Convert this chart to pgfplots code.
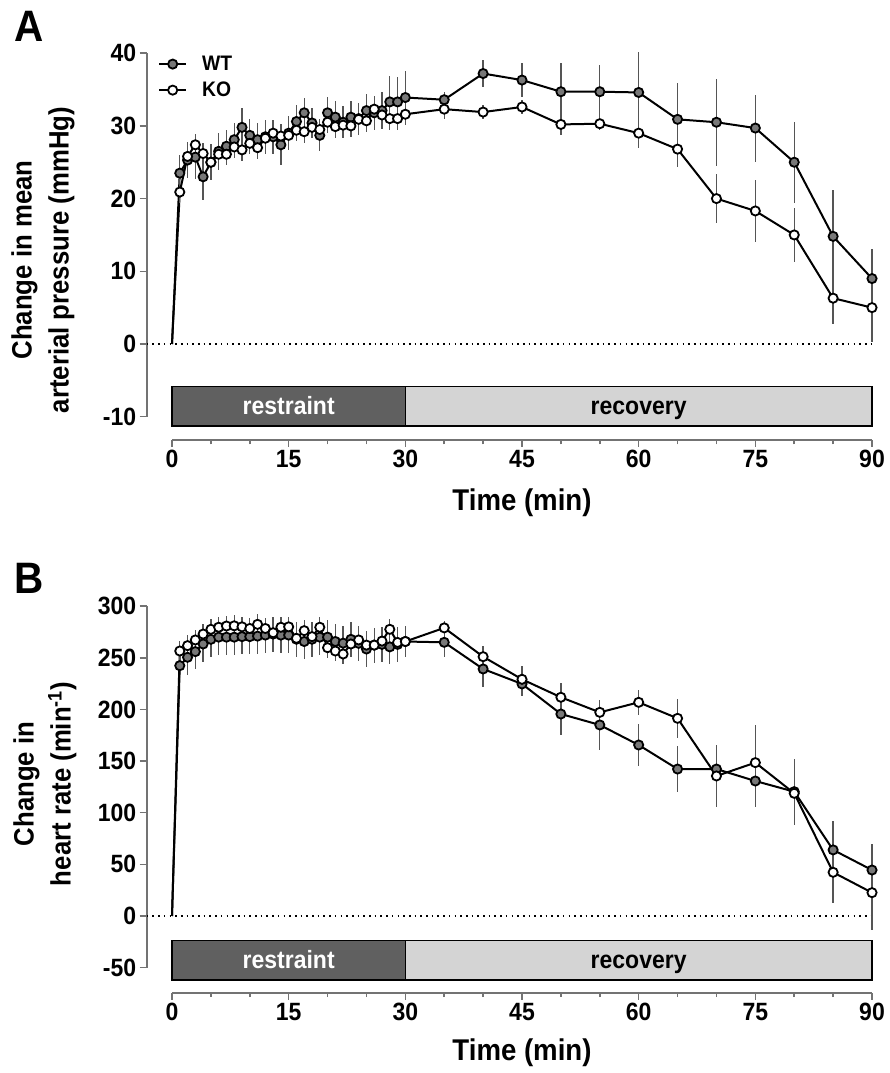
\documentclass[border=0pt]{standalone}
\usepackage{fontspec}
\setmainfont{Liberation Sans}[FakeStretch=0.92]
\usepackage{pgfplots}
\usepackage{pgfplotstable}
\pgfplotsset{compat=1.18}
\definecolor{axgray}{RGB}{115,115,115}
\definecolor{errgray}{RGB}{85,85,85}
\definecolor{wtfill}{RGB}{120,120,120}
\definecolor{restfill}{RGB}{96,96,96}
\definecolor{recfill}{RGB}{212,212,212}

% mean arterial pressure, WT
\pgfplotstableread{
t y e
0 0 0
1 23.5 2.5
2 25.3 2.5
3 25.7 3.0
4 23.0 3.2
5 25.0 2.5
6 26.5 2.5
7 27.2 2.3
8 28.1 2.3
9 29.8 2.6
10 28.7 2.3
11 28.1 2.3
12 28.5 2.3
13 28.5 2.3
14 27.4 2.8
15 29.0 2.3
16 30.6 2.3
17 31.8 2.0
18 30.4 2.0
19 28.7 2.2
20 31.8 2.2
21 31.2 2.2
22 30.5 2.2
23 31.2 2.2
24 31.0 2.2
25 32.1 2.3
26 31.8 2.3
27 32.1 2.5
28 33.3 3.5
29 33.3 3.4
30 33.9 3.6
35 33.6 1.0
40 37.2 1.8
45 36.3 2.3
50 34.7 3.9
55 34.7 3.7
60 34.6 5.5
65 30.9 5.0
70 30.5 6.0
75 29.7 4.6
80 25.0 5.6
85 14.8 6.4
90 9.0 4.1
}\mapWT

% mean arterial pressure, KO
\pgfplotstableread{
t y e
0 0 0
1 20.9 1.5
2 25.8 1.5
3 27.4 1.5
4 26.2 1.5
5 25.0 1.5
6 26.1 1.5
7 26.1 1.5
8 27.1 1.5
9 26.7 1.5
10 27.6 1.5
11 27.0 1.5
12 28.3 1.5
13 29.0 1.5
14 28.6 1.5
15 28.7 1.5
16 29.4 1.5
17 29.2 1.5
18 29.8 1.5
19 29.5 1.5
20 30.5 1.5
21 29.9 1.5
22 30.1 1.5
23 30.0 1.5
24 30.9 1.5
25 30.7 1.5
26 32.3 1.5
27 31.5 1.5
28 31.0 1.5
29 31.0 1.5
30 31.6 1.5
35 32.3 1.4
40 31.9 1.0
45 32.6 0.9
50 30.2 1.5
55 30.3 0.9
60 29.0 2.1
65 26.8 2.5
70 20.0 3.4
75 18.3 4.3
80 15.0 3.7
85 6.3 3.5
90 5.0 4.7
}\mapKO

% heart rate, WT
\pgfplotstableread{
t y e
0 0 0
1 242.4 17
2 250.5 17
3 256 17
4 263.4 17
5 267.9 17
6 270 17
7 270 17
8 270 17
9 270.5 17
10 270.5 17
11 271 17
12 272 17
13 273 17
14 272 17
15 272 17
16 268 17
17 265.8 17
18 268 17
19 270 17
20 270 17
21 265.8 17
22 264.2 17
23 267.9 17
24 264 17
25 258.5 17
26 262.3 17
27 263 17
28 260.6 17
29 263 17
30 265.8 15
35 265 14
40 239.2 17
45 224.7 12
50 195.6 20
55 185 24
60 165.6 20
65 142.3 22.5
70 142.3 22
75 130.7 25
80 120.4 32
85 64 28
90 44.5 25
}\hrWT

% heart rate, KO
\pgfplotstableread{
t y e
0 0 0
1 256.6 10
2 261.8 10
3 267.3 10
4 273 10
5 277.6 10
6 279.6 10
7 280.8 10
8 281 10
9 280 10
10 278.4 10
11 282.4 10
12 278.4 10
13 274.3 10
14 279.6 10
15 280 10
16 268.9 10
17 276.3 10
18 270.5 10
19 279.6 10
20 259.8 10
21 256.6 10
22 253.7 10
23 263.4 10
24 267.3 10
25 262.3 10
26 262.3 10
27 266.2 10
28 277.6 10
29 264.9 10
30 265.8 10
35 279 7
40 251.1 10
45 229.2 13
50 211.8 13.5
55 197.2 11
60 206.9 12
65 191.4 19
70 135.6 30
75 148.5 36
80 118.8 25
85 42.3 30
90 22.6 36
}\hrKO

\pgfplotsset{
  panel/.style={
    anchor=origin, x=7.7778pt, clip=false,
    xmin=0, xmax=90,
    axis lines=left,
    axis line style={-, axgray, line width=1.6pt},
    axis y line shift=25.3pt,
    xtick={0,15,...,90},
    xticklabels={0,15,30,45,60,75,90},
    minor xtick={5,10,20,25,35,40,50,55,65,70,80,85},
    tick style={axgray, line width=1.5pt},
    major tick length=7pt, minor tick length=4.5pt,
    tick align=outside,
    ticklabel style={font=\fontsize{25}{30}\selectfont\bfseries, text=black},
  },
  dataline/.style={black, line width=2pt, forget plot},
  datamarks/.style={only marks, mark=*, mark size=4.6pt,
    mark options={draw=black, line width=1.8pt, fill=#1},
    skip coords between index={0}{1},
    error bars/y dir=both, error bars/y explicit, error bars/error mark=none,
    error bars/error bar style={errgray, line width=1.4pt}},
  legimg/.style={legend image code/.code={
    \draw[black, line width=2pt] (0pt,0pt) -- (27pt,0pt);
    \draw[only marks] plot coordinates {(13.5pt,0pt)};}},
}
\newcommand\barfont{\fontsize{25}{28}\selectfont\bfseries}

\begin{document}
\begin{tikzpicture}
\useasboundingbox (0,0) rectangle (889pt,1073pt);

% ---- panel A ----
\begin{axis}[panel,
  at={(172pt,729pt)}, y=7.27pt,
  ymin=-10, ymax=40,
  axis x line shift=23.3pt,
  ytick={-10,0,...,40},
  yticklabels={-10,0,10,20,30,40},
  legend style={at={(axis cs:-1.8,39.9)}, anchor=north west, draw=none, fill=none,
    font=\fontsize{21}{24}\selectfont\bfseries, inner sep=0pt, row sep=6pt,
    /tikz/every odd column/.append style={column sep=13pt}},
  legend cell align=left,
]
\draw[axgray, line width=1.6pt] (axis cs:-3.25,-10) -- (axis cs:-3.25,40);
\draw[axgray, line width=1.6pt] (axis cs:0,-13.205) -- (axis cs:90,-13.205);
\draw[black, line width=1.8pt, dash pattern=on 1.6pt off 4.1pt] (axis cs:-3.25,0) -- (axis cs:90,0);
\draw[black, line width=1.5pt, fill=restfill] (axis cs:0,-5.87) rectangle (axis cs:30,-11.28);
\draw[black, line width=1.5pt, fill=recfill] (axis cs:30,-5.87) rectangle (axis cs:90,-11.28);
\node[anchor=base, text=white, font=\barfont] at (axis cs:15,-9.75) {restraint};
\node[anchor=base, font=\barfont] at (axis cs:60,-9.75) {recovery};
\addplot[dataline] table[x=t, y=y] {\mapWT};
\addplot[legimg, datamarks=wtfill] table[x=t, y=y, y error=e] {\mapWT};
\addlegendentry{WT}
\addplot[dataline] table[x=t, y=y] {\mapKO};
\addplot[legimg, datamarks=white] table[x=t, y=y, y error=e] {\mapKO};
\addlegendentry{KO}
\end{axis}

% ---- panel B ----
\begin{axis}[panel,
  at={(172pt,157pt)}, y=1.0327pt,
  ymin=-50, ymax=300,
  axis x line shift=25.1pt,
  ytick={-50,0,...,300},
  yticklabels={-50,0,50,100,150,200,250,300},
]
\draw[axgray, line width=1.6pt] (axis cs:-3.25,-50) -- (axis cs:-3.25,300);
\draw[axgray, line width=1.6pt] (axis cs:0,-74.31) -- (axis cs:90,-74.31);
\draw[black, line width=1.8pt, dash pattern=on 1.6pt off 4.1pt] (axis cs:-3.25,0) -- (axis cs:90,0);
\draw[black, line width=1.5pt, fill=restfill] (axis cs:0,-23.9) rectangle (axis cs:30,-62);
\draw[black, line width=1.5pt, fill=recfill] (axis cs:30,-23.9) rectangle (axis cs:90,-62);
\node[anchor=base, text=white, font=\barfont] at (axis cs:15,-50.5) {restraint};
\node[anchor=base, font=\barfont] at (axis cs:60,-50.5) {recovery};
\addplot[dataline] table[x=t, y=y] {\hrWT};
\addplot[datamarks=wtfill] table[x=t, y=y, y error=e] {\hrWT};
\addplot[dataline] table[x=t, y=y] {\hrKO};
\addplot[datamarks=white] table[x=t, y=y, y error=e] {\hrKO};
\end{axis}

% ---- labels ----
\node[font=\fontsize{44}{48}\selectfont\bfseries] at (29pt,1047pt) {A};
\node[font=\fontsize{44}{48}\selectfont\bfseries] at (29pt,495pt) {B};
\node[rotate=90, align=center, font=\fontsize{28}{37}\selectfont\bfseries] at (43pt,813pt)
  {Change in mean\\arterial pressure (mmHg)};
\node[rotate=90, align=center, font=\fontsize{28}{37}\selectfont\bfseries] at (45pt,289pt)
  {Change in\\heart rate (min\textsuperscript{-1})};
\node[font=\fontsize{30}{34}\selectfont\bfseries] at (522pt,570pt) {Time (min)};
\node[font=\fontsize{30}{34}\selectfont\bfseries] at (522pt,20pt) {Time (min)};
\end{tikzpicture}
\end{document}
